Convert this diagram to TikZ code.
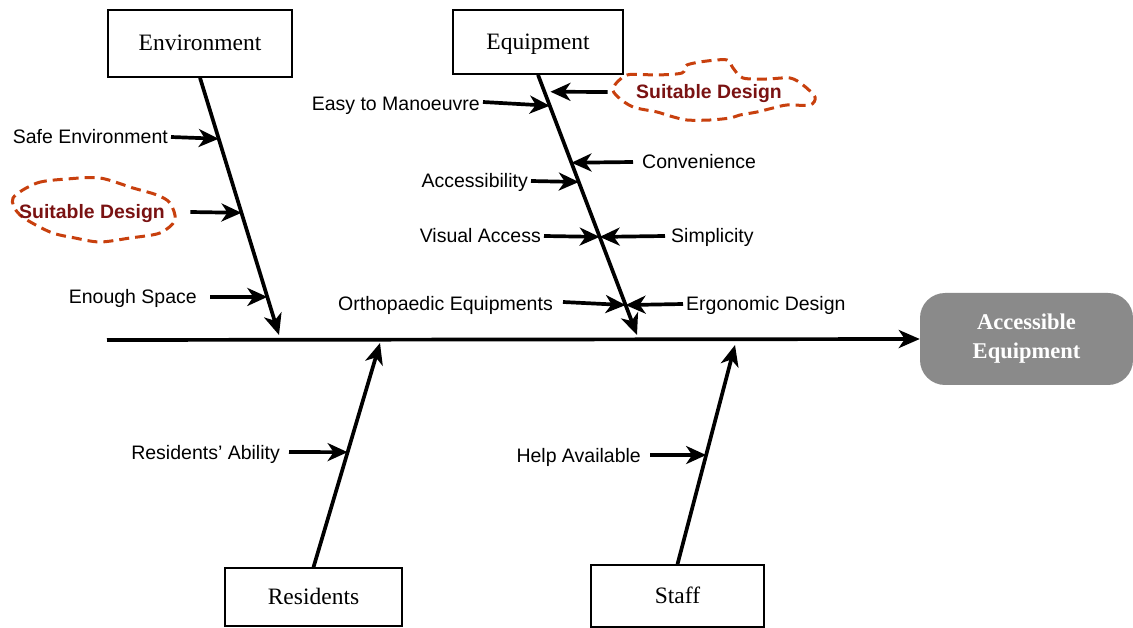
\documentclass[tikz,border=0pt]{standalone}
\usepackage{fontspec}
\setmainfont{Liberation Serif}
\newfontfamily\labelfont{Liberation Sans}
\usetikzlibrary{arrows.meta,calc}
\definecolor{cloudline}{HTML}{C8400E}
\definecolor{cloudtext}{HTML}{7A1212}
\definecolor{headfill}{HTML}{8A8A8A}
\begin{document}
\begin{tikzpicture}[x=1pt,y=-1pt,
  catbox/.style={draw, line width=1.6pt, inner sep=0pt, text height=15pt, text depth=0pt,
    font=\fontsize{23.5}{26}\selectfont},
  headbox/.style={fill=headfill, rounded corners=25pt, text=white, align=center,
    font=\bfseries\fontsize{22.5}{29}\selectfont},
  bone/.style={line width=3.7pt, -{Stealth[length=21pt,width=18pt,inset=6pt]}},
  sub/.style={line width=3.7pt, -{Stealth[length=20pt,width=18pt,inset=6pt]}},
  cause/.style={font=\labelfont\fontsize{19.5}{21}\selectfont, inner sep=3pt,
    text height=14pt, text depth=0pt},
  cloudtxt/.style={font=\labelfont\bfseries\fontsize{19.4}{21}\selectfont, text=cloudtext,
    text height=14pt, text depth=0pt},
  cloudline/.style={draw=cloudline, line width=3pt, dash pattern=on 10pt off 6pt}
]
\useasboundingbox (0,0) rectangle (1133,628);

% category boxes and the effect
\node[catbox, minimum width=184pt, minimum height=67pt] (env) at (200,43.5) {Environment};
\node[catbox, minimum width=170pt, minimum height=64pt] (equ) at (538,42) {Equipment};
\node[catbox, minimum width=177pt, minimum height=58pt] (res) at (313.5,597) {Residents};
\node[catbox, minimum width=173pt, minimum height=62pt] (stf) at (677.5,596) {Staff};
\node[headbox, minimum width=213pt, minimum height=92pt] (head) at (1026.5,339)
  {Accessible\\Equipment};

% spine
\coordinate (tail) at (107,340);
\draw[bone] (tail) -- (head.west);

% bone tips on the spine
\coordinate (envtip) at (279,335);
\coordinate (equtip) at (637,335);
\coordinate (restip) at (380,343);
\coordinate (stftip) at (735,345);

\draw[bone] (env.south) -- (envtip);
\draw[bone] (equ.south) -- (equtip);
\draw[bone] (res.north) -- (restip);
\draw[bone] (stf.north) -- (stftip);

% points on the bones where the causes meet them
\path (env.south) -- (envtip)
  coordinate[pos=0.237] (e1) coordinate[pos=0.525] (e2) coordinate[pos=0.852] (e3);
\path (equ.south) -- (equtip)
  coordinate[pos=0.065] (q0) coordinate[pos=0.119] (q1) coordinate[pos=0.338] (q2)
  coordinate[pos=0.412] (q3) coordinate[pos=0.623] (q4) coordinate[pos=0.885] (q5);
\path (res.north) -- (restip) coordinate[pos=0.513] (r1);
\path (stf.north) -- (stftip) coordinate[pos=0.498] (s1);

% Environment causes
\node[cause, anchor=east] (safe) at (171,137) {Safe Environment};
\draw[sub] (safe.east) -- (e1);

\draw[cloudline] plot[smooth cycle] coordinates {
  (13,198) (37,183) (67,179) (100,178) (133,188) (157,195) (170,203)
  (175,220) (160,233) (130,238) (100,242) (75,238) (50,232) (20,215)};
\node[cloudtxt] (sd1) at (92,212) {Suitable Design};
\draw[sub] ([xshift=22pt]sd1.east) -- (e2);

\node[cause, anchor=east] (space) at (200,297) {Enough Space};
\draw[sub] ([xshift=10pt]space.east) -- (e3);

% Equipment causes
\node[cause, anchor=east] (easy) at (483,104) {Easy to Manoeuvre};
\draw[sub] ([yshift=2pt]easy.east) -- (q1);

\draw[cloudline] plot[smooth cycle] coordinates {
  (613,88) (627,75) (657,75) (682,73) (687,65) (707,61) (727,60) (733,68)
  (743,78) (767,79) (790,78) (803,85) (815,97) (810,105) (787,105) (773,108)
  (757,112) (740,115) (730,118) (710,120) (687,120) (670,116) (657,112)
  (633,107) (618,97)};
\node[cloudtxt] (sd2) at (709,92) {Suitable Design};
\draw[sub, shorten >=6pt] ([xshift=-25pt]sd2.west) -- (q0);

\node[cause, anchor=west] (conv) at (639,162) {Convenience};
\draw[sub] ([xshift=-6pt]conv.west) -- (q2);

\node[cause, anchor=east] (acc) at (531,181) {Accessibility};
\draw[sub] (acc.east) -- (q3);

\node[cause, anchor=east] (vis) at (544,236) {Visual Access};
\draw[sub] (vis.east) -- (q4);

\node[cause, anchor=west] (simp) at (668,236) {Simplicity};
\draw[sub] ([xshift=-3pt]simp.west) -- (q4);

\node[cause, anchor=east] (ortho) at (556,304) {Orthopaedic Equipments};
\draw[sub] ([xshift=7pt,yshift=2pt]ortho.east) -- (q5);

\node[cause, anchor=west] (ergo) at (683,304) {Ergonomic Design};
\draw[sub] (ergo.west) -- (q5);

% Residents and Staff causes
\node[cause, anchor=east] (abil) at (283,452) {Residents’ Ability};
\draw[sub] ([xshift=6pt]abil.east) -- (r1);

\node[cause, anchor=east] (help) at (644,455) {Help Available};
\draw[sub] ([xshift=6pt]help.east) -- (s1);
\end{tikzpicture}
\end{document}
